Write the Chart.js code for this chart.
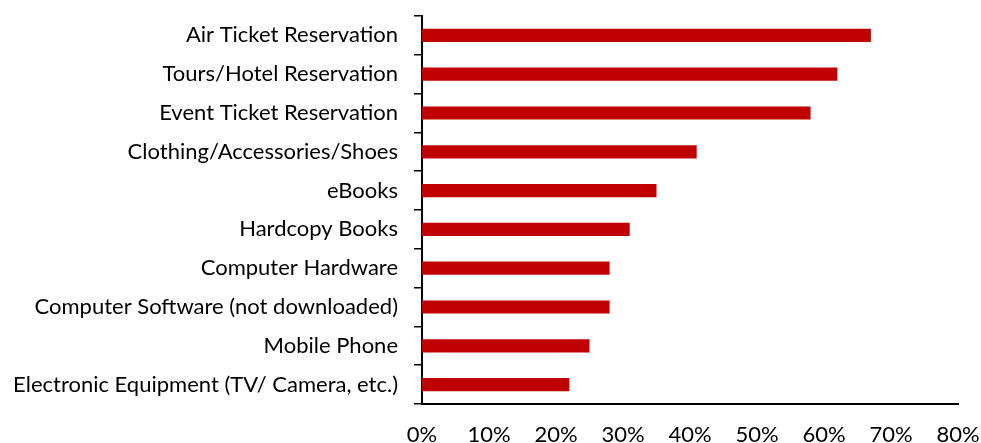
<!DOCTYPE html>
<html>
<head>
<meta charset="utf-8">
<script src="https://cdn.jsdelivr.net/npm/chart.js@4.4.0/dist/chart.umd.min.js"></script>
<style>
  html, body { margin: 0; padding: 0; background: #fff; }
  #barChart { display: block; }
</style>
</head>
<body>
<canvas id="barChart" width="981" height="443"></canvas>
<script>
// share of online shoppers per purchase category (%)
const categories = [
    'Air Ticket Reservation',
    'Tours/Hotel Reservation',
    'Event Ticket Reservation',
    'Clothing/Accessories/Shoes',
    'eBooks',
    'Hardcopy Books',
    'Computer Hardware',
    'Computer Software (not downloaded)',
    'Mobile Phone',
    'Electronic Equipment (TV/ Camera, etc.)'
]
const shares = [67, 62, 58, 41, 35, 31, 28, 28, 25, 22]
const xTicks = [0, 10, 20, 30, 40, 50, 60, 70, 80]

const labelFont = { family: 'Lato, "Open Sans", sans-serif', size: 22 }

const data = {
    labels: categories,
    datasets: [{
        data: shares,
        backgroundColor: '#C00000',
        borderWidth: 0,
        categoryPercentage: 1,
        barPercentage: 0.34
    }]
}

const config = {
    type: 'bar',
    data: data,
    options: {
        indexAxis: 'y',
        responsive: false,
        animation: false,
        layout: {
            padding: { top: 16, right: 23, left: 0, bottom: 0 }
        },
        plugins: {
            legend: { display: false },
            tooltip: { enabled: false }
        },
        scales: {
            x: {
                min: xTicks[0],
                max: xTicks[xTicks.length - 1],
                afterBuildTicks: function (scale) {
                    scale.ticks = xTicks.map(v => ({ value: v }))
                },
                afterFit: function (scale) {
                    // keep the plot edges fixed, labels may overhang
                    scale.height = 39
                    scale.paddingLeft = 0
                    scale.paddingRight = 0
                },
                grid: { display: false, drawTicks: false },
                border: { display: true, color: '#000', width: 2 },
                ticks: {
                    color: '#000',
                    font: labelFont,
                    padding: 18,
                    maxRotation: 0,
                    callback: function (value) {
                        return value + '%'
                    }
                }
            },
            y: {
                afterFit: function (scale) {
                    scale.width = 422
                    scale.paddingTop = 0
                    scale.paddingBottom = 0
                },
                grid: {
                    offset: true,
                    drawOnChartArea: false,
                    drawTicks: true,
                    tickLength: 8,
                    color: '#000',
                    lineWidth: 1.5
                },
                border: { display: true, color: '#000', width: 2 },
                ticks: {
                    color: '#000',
                    font: labelFont,
                    padding: 16,
                    autoSkip: false
                }
            }
        }
    }
}

new Chart(document.getElementById('barChart'), config)
</script>
</body>
</html>
